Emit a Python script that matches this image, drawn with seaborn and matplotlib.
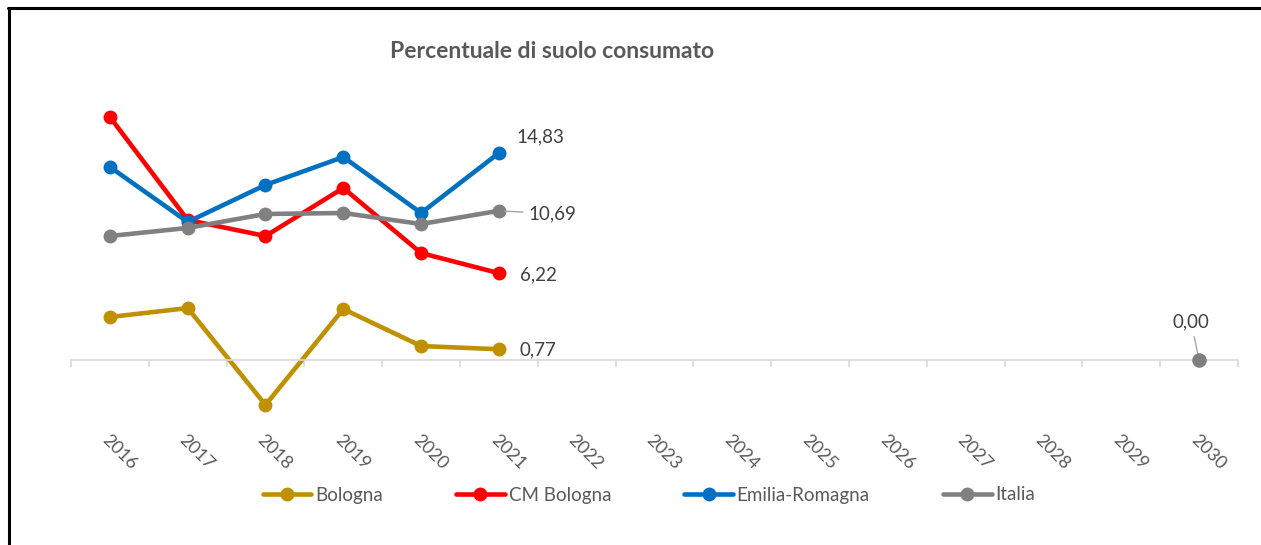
import matplotlib
matplotlib.use("Agg")
import matplotlib.pyplot as plt
import matplotlib.lines as mlines
import seaborn as sns
import pandas as pd
import numpy as np

# ---- data ----
years = [2016, 2017, 2018, 2019, 2020, 2021, 2022, 2023, 2024, 2025, 2026, 2027, 2028, 2029, 2030]
obs_years = [2016, 2017, 2018, 2019, 2020, 2021]
bologna = [3.08, 3.72, -3.22, 3.65, 1.00, 0.77]
cm_bologna = [17.41, 10.03, 8.88, 12.32, 7.66, 6.22]
emilia_romagna = [13.83, 9.89, 12.54, 14.54, 10.53, 14.83]
italia = [8.88, 9.46, 10.46, 10.53, 9.74, 10.69]
italia_2030_year = [2030]
italia_2030 = [0.00]
series_names = ["Bologna", "CM Bologna", "Emilia-Romagna", "Italia"]
colors = ["#BF9000", "#FF0000", "#0070C0", "#808080"]
title = "Percentuale di suolo consumato"

sns.set_theme(style="white")
plt.rcParams["font.family"] = ["Lato", "DejaVu Sans"]

frames = []
for name, vals in zip(series_names, [bologna, cm_bologna, emilia_romagna, italia]):
    frames.append(pd.DataFrame({"Anno": obs_years, "Valore": vals, "Serie": name}))
df = pd.concat(frames, ignore_index=True)
df_2030 = pd.DataFrame({"Anno": italia_2030_year, "Valore": italia_2030, "Serie": "Italia"})

fig = plt.figure(figsize=(12.61, 5.45), dpi=100)
W, H = 1261, 545
x0, x1 = 71, 1238
ytop, ybot = 100, 420
ax = fig.add_axes([x0 / W, (H - ybot) / H, (x1 - x0) / W, (ybot - ytop) / H])

palette = dict(zip(series_names, colors))
sns.lineplot(data=df, x="Anno", y="Valore", hue="Serie", palette=palette,
             marker="o", markersize=10, markeredgewidth=0, linewidth=3.3,
             ax=ax, legend=False, sort=False)
sns.scatterplot(data=df_2030, x="Anno", y="Valore", hue="Serie", palette=palette,
                s=110, linewidth=0, ax=ax, legend=False, zorder=5)

px_per_unit = 13.96
ax.set_xlim(years[0] - 0.5, years[-1] + 0.5)
ax.set_ylim(-(ybot - 360) / px_per_unit, (360 - ytop) / px_per_unit)

for s in ["top", "right", "left"]:
    ax.spines[s].set_visible(False)
ax.spines["bottom"].set_position(("data", 0))
ax.spines["bottom"].set_color("#D9D9D9")
ax.spines["bottom"].set_linewidth(1.2)
ax.set_yticks([])
ax.set_xlabel("")
ax.set_ylabel("")

# boundaries as major ticks, years as minor labelled ticks
ax.set_xticks(np.arange(years[0] - 0.5, years[-1] + 1.0, 1.0))
ax.set_xticklabels([])
ax.set_xticks(years, minor=True)
ax.set_xticklabels([str(y) for y in years], minor=True)
ax.tick_params(axis="x", which="major", direction="out", length=5, width=1.2,
               color="#D9D9D9", bottom=True)
ax.tick_params(axis="x", which="minor", length=0, pad=52, labelsize=13,
               labelcolor="#595959", bottom=True)
for lab in ax.get_xticklabels(minor=True):
    lab.set_rotation(-45)
    lab.set_rotation_mode("anchor")
    lab.set_ha("left")
    lab.set_va("top")

# data labels
lab_col = "#404040"
def ann(x, y, txt, dx, dy, ha="left", line=False):
    ax.annotate(txt, xy=(x, y), xytext=(dx, dy), textcoords="offset pixels",
                ha=ha, va="center", fontsize=13.5, color=lab_col,
                arrowprops=(dict(arrowstyle="-", color="#A6A6A6", lw=1.0,
                                 shrinkA=2, shrinkB=4) if line else None))

ann(obs_years[-1], emilia_romagna[-1], "14,83", 18, 16)
ann(obs_years[-1], italia[-1], "10,69", 30, -3, line=True)
ann(obs_years[-1], cm_bologna[-1], "6,22", 21, -2)
ann(obs_years[-1], bologna[-1], "0,77", 21, -1)
ann(italia_2030_year[0], italia_2030[0], "0,00", -8, 38, ha="center", line=True)

fig.text(552 / W, 1 - 52 / H, title, ha="center", va="center",
         fontsize=16.5, fontweight="bold", color="#595959")

handles = [mlines.Line2D([], [], color=c, linewidth=3.3, marker="o", markersize=10,
                         markeredgewidth=0) for c in colors]
fig.legend(handles, series_names, loc="center", bbox_to_anchor=(649 / W, 1 - 495 / H),
           ncol=4, frameon=False, fontsize=13.5, handlelength=2.6, handletextpad=0.2,
           columnspacing=3.9, labelcolor="#595959")

# frame lines of the original chart area
fig.add_artist(mlines.Line2D([8 / W, 1.0], [1 - 8 / H, 1 - 8 / H], color="black",
                             linewidth=2.2, transform=fig.transFigure))
fig.add_artist(mlines.Line2D([9 / W, 9 / W], [0.0, 1 - 8 / H], color="black",
                             linewidth=2.2, transform=fig.transFigure))

fig.savefig("out.png", dpi=100, facecolor="white")
